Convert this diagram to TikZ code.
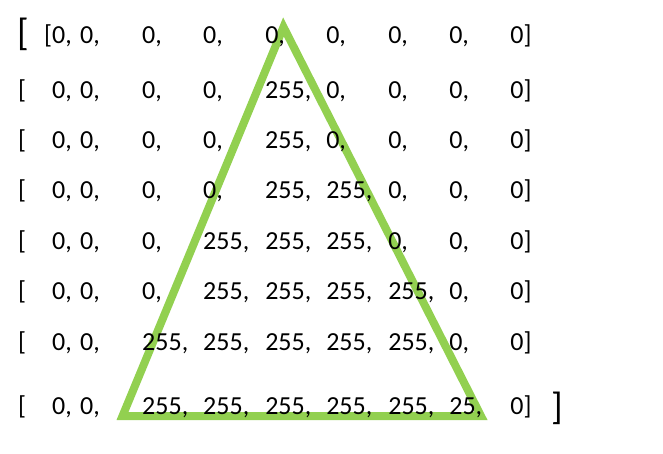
\documentclass[tikz,border=0pt]{standalone}
\usepackage{fontspec}
\setmainfont{Carlito}
\definecolor{trigreen}{HTML}{92D050}
\newcommand{\cells}[9]{\makebox[28pt][l]{#1}\makebox[62pt][l]{#2}\makebox[61pt][l]{#3}\makebox[62pt][l]{#4}\makebox[61pt][l]{#5}\makebox[62pt][l]{#6}\makebox[61pt][l]{#7}\makebox[61pt][l]{#8}#9}
\begin{document}
\begin{tikzpicture}[x=1pt, y=-1pt]
        \tikzstyle{cellrow} = [anchor=base west, inner sep=0pt, font=\fontsize{26}{30}\selectfont]
        \tikzstyle{bigbracket} = [anchor=base west, inner sep=0pt, font=\fontsize{38}{42}\selectfont]
        \tikzstyle{tri} = [draw=trigreen, line width=8pt, line join=miter]

                \useasboundingbox (0,0) rectangle (663,453);

                % triangle behind the numbers
                \draw[tri] (283.5,27) -- (481,416) -- (122.5,416) -- cycle;

                \node (open) [bigbracket] at (17,45.5) {[};
                \node (close) [bigbracket] at (551,419) {]};

                \node (r1) [cellrow] at (52,43.5) {\cells{\llap{[}0,}{0,}{0,}{0,}{0,}{0,}{0,}{0,}{0]}};
                \node (b2) [cellrow] at (18,98) {[};
                \node (r2) [cellrow] at (52,98) {\cells{0,}{0,}{0,}{0,}{255,}{0,}{0,}{0,}{0]}};
                \node (b3) [cellrow] at (18,148) {[};
                \node (r3) [cellrow] at (52,148) {\cells{0,}{0,}{0,}{0,}{255,}{0,}{0,}{0,}{0]}};
                \node (b4) [cellrow] at (18,198.5) {[};
                \node (r4) [cellrow] at (52,198.5) {\cells{0,}{0,}{0,}{0,}{255,}{255,}{0,}{0,}{0]}};
                \node (b5) [cellrow] at (18,249) {[};
                \node (r5) [cellrow] at (52,249) {\cells{0,}{0,}{0,}{255,}{255,}{255,}{0,}{0,}{0]}};
                \node (b6) [cellrow] at (18,299.5) {[};
                \node (r6) [cellrow] at (52,299.5) {\cells{0,}{0,}{0,}{255,}{255,}{255,}{255,}{0,}{0]}};
                \node (b7) [cellrow] at (18,350) {[};
                \node (r7) [cellrow] at (52,350) {\cells{0,}{0,}{255,}{255,}{255,}{255,}{255,}{0,}{0]}};
                \node (b8) [cellrow] at (18,414) {[};
                \node (r8) [cellrow] at (52,414) {\cells{0,}{0,}{255,}{255,}{255,}{255,}{255,}{25,}{0]}};
    \end{tikzpicture}
\end{document}
